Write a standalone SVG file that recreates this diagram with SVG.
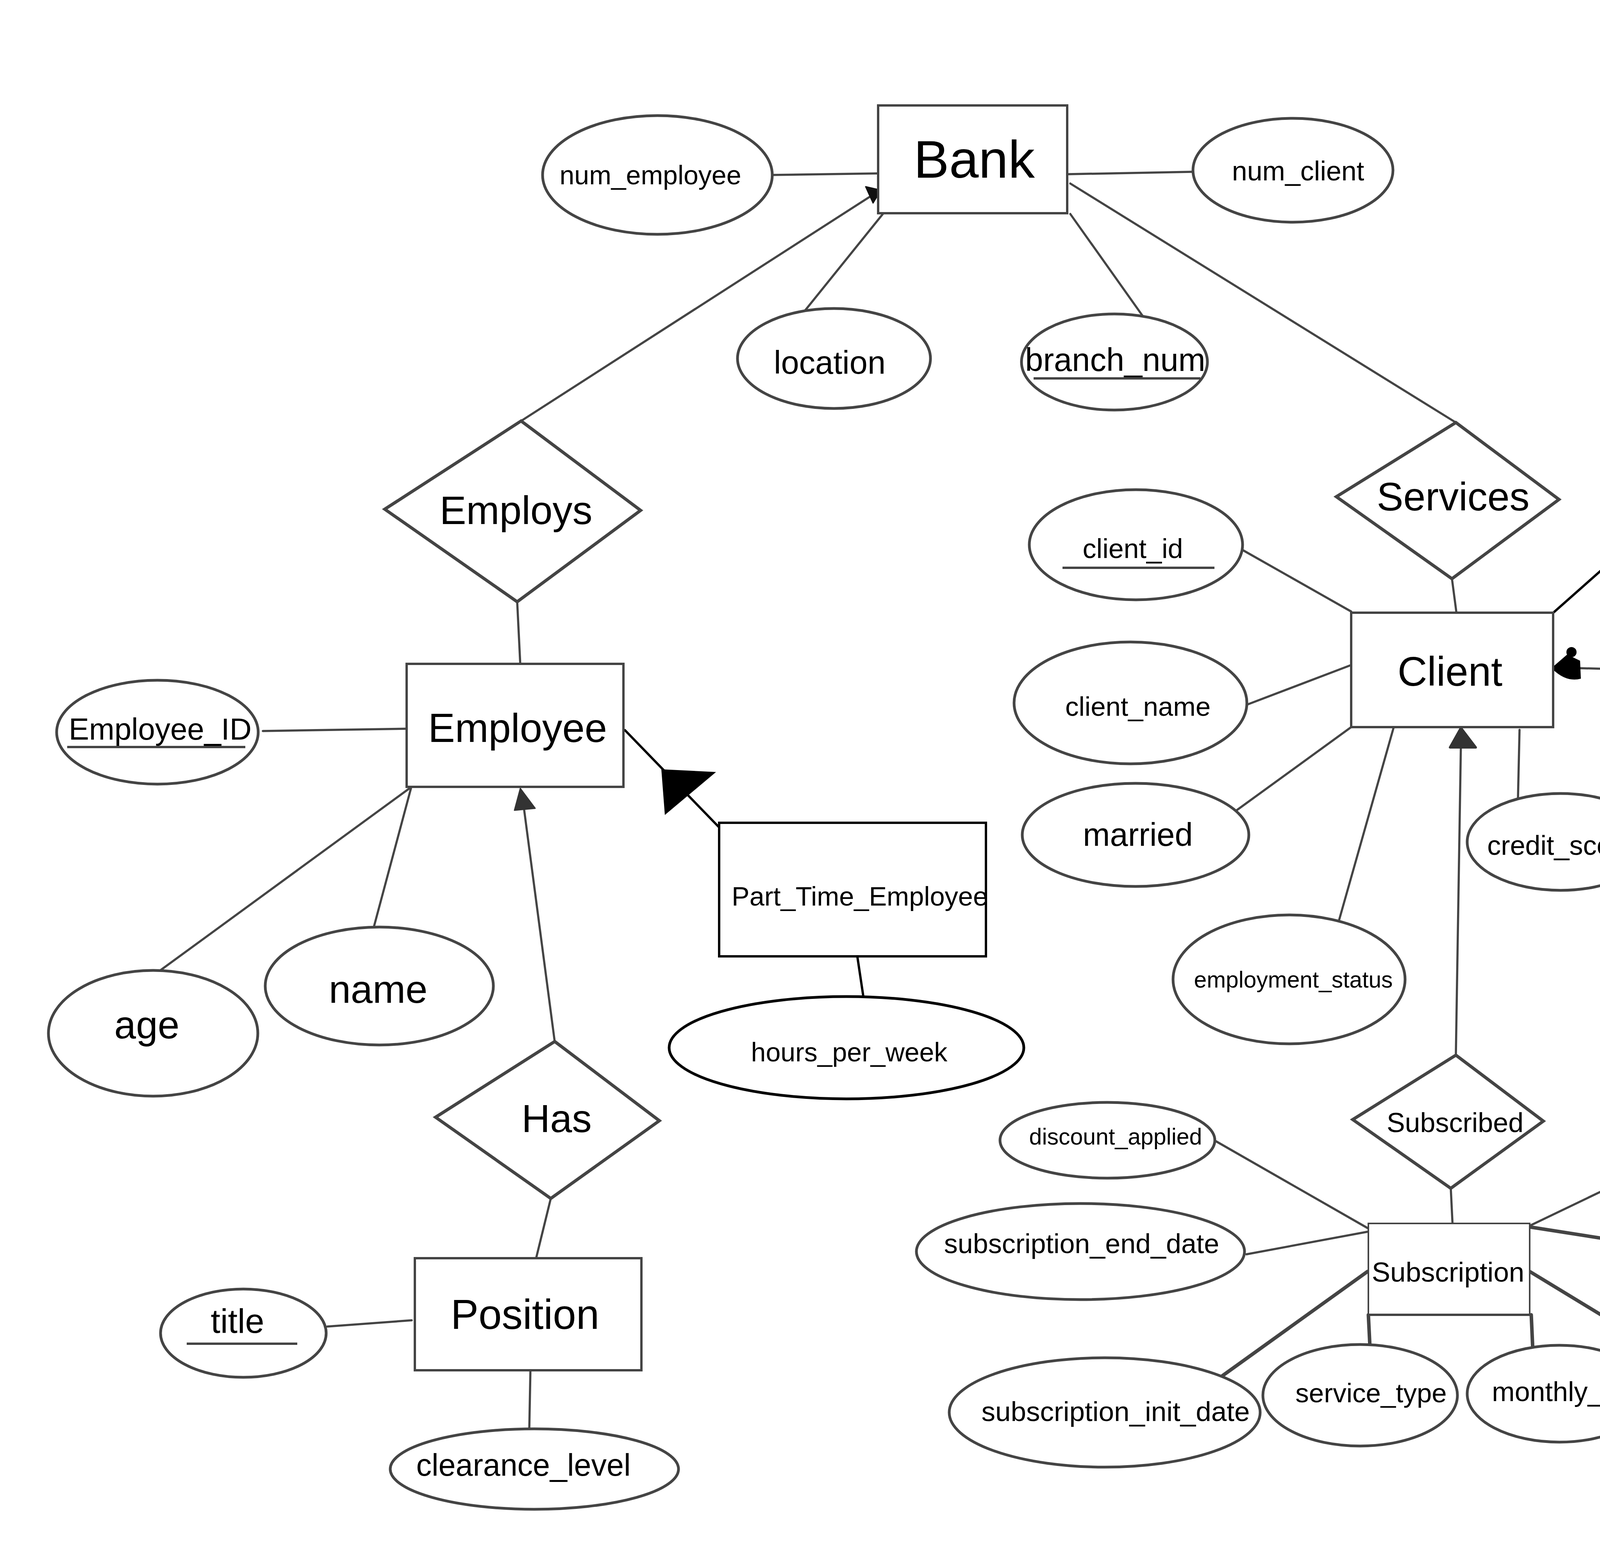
<svg xmlns="http://www.w3.org/2000/svg" width="6000" height="4000" viewBox="0 0 6000 4000">
<style>
  text { font-family: "Liberation Sans", Arial, sans-serif; fill: #000; text-anchor: middle; }
  .ent { fill: #fff; stroke: #444; stroke-width: 6; }
  .entb { fill: #fff; stroke: #000; stroke-width: 6; }
  .rel { fill: #fff; stroke: #444; stroke-width: 8; stroke-linejoin: miter; }
  .att { fill: #fff; stroke: #444; stroke-width: 7; }
  .attb { fill: #fff; stroke: #000; stroke-width: 7; }
  .ul { stroke: #444; stroke-width: 6; }
  .ln { stroke: #444; stroke-width: 5.5; fill: none; stroke-linecap: round; }
  .lnb { stroke: #000; stroke-width: 6; fill: none; stroke-linecap: round; }
  .lnt { stroke: #444; stroke-width: 9; fill: none; stroke-linecap: round; }
  .head { fill: #111; stroke: #111; stroke-width: 3; stroke-linejoin: round; }
</style>
<rect width="6000" height="4000" fill="#fff"/>

<g id="connectors">
  <line class="ln" x1="1980" y1="448" x2="2252" y2="444"/>
  <line class="ln" x1="2736" y1="446" x2="3054" y2="440"/>
  <line class="ln" x1="2260" y1="548" x2="2057" y2="800"/>
  <line class="ln" x1="2740" y1="548" x2="2933" y2="820"/>
  <line class="ln" x1="2740" y1="470" x2="3727" y2="1082"/>
  <line class="ln" x1="1334" y1="1078" x2="2228" y2="503"/>
  <polygon class="head" points="2216,478 2255,487 2235,520"/>
  <line class="ln" x1="1324" y1="1541" x2="1332" y2="1703"/>
  <line class="ln" x1="673" y1="1872" x2="1047" y2="1866"/>
  <line class="ln" x1="1048" y1="2019" x2="402" y2="2491"/>
  <line class="ln" x1="1052" y1="2019" x2="957" y2="2374"/>
  <line class="ln" x1="1420" y1="2667" x2="1340" y2="2060"/>
  <polygon class="head" points="1332,2019 1317,2075 1370,2070" style="fill:#333;stroke:#333"/>
  <line class="ln" x1="1410" y1="3069" x2="1372" y2="3224"/>
  <line class="ln" x1="838" y1="3397" x2="1054" y2="3381"/>
  <line class="ln" x1="1358" y1="3503" x2="1355" y2="3658"/>
  <line class="lnb" x1="1850" y1="2128" x2="1600" y2="1870"/>
  <polygon points="1693,1970 1833,1977 1702,2087" fill="#000"/>
  <line class="lnb" x1="2194" y1="2444" x2="2210" y2="2551"/>
  <line class="ln" x1="3717" y1="1482" x2="3729" y2="1573"/>
  <line class="ln" x1="3182" y1="1409" x2="3459" y2="1566"/>
  <line class="ln" x1="3191" y1="1805" x2="3459" y2="1703"/>
  <line class="ln" x1="3459" y1="1862" x2="3163" y2="2077"/>
  <line class="ln" x1="3568" y1="1862" x2="3425" y2="2367"/>
  <line class="ln" x1="3890" y1="1869" x2="3886" y2="2045"/>
  <line class="ln" x1="3727" y1="2702" x2="3740" y2="1900"/>
  <polygon class="head" points="3740,1864 3712,1914 3778,1914" style="fill:#333;stroke:#333;stroke-width:6"/>
  <line class="lnb" x1="4433" y1="1165" x2="3972" y2="1573"/>
  <polygon points="4177,1242 4350,1341 4150,1424" fill="#000" stroke="#000" stroke-width="12" stroke-linejoin="round"/>
  <line class="lnb" x1="4193" y1="1221" x2="4182" y2="1300" style="stroke-width:10"/>
  <line class="lnb" x1="4580" y1="469" x2="4527" y2="861"/>
  <line class="ln" x1="4223" y1="1716" x2="4043" y2="1711"/>
  <path d="M3975,1708 L4012,1676 L4045,1692 L4047,1738 Q4010,1748 3975,1714 Z" fill="#000"/>
  <circle cx="4023" cy="1670" r="13" fill="#000"/>
  <line class="ln" x1="4793" y1="1722" x2="4967" y2="1728"/>
  <line class="ln" x1="5311" y1="1339" x2="5311" y2="1566"/>
  <line class="ln" x1="4957" y1="1913" x2="4894" y2="2202"/>
  <line class="ln" x1="5650" y1="1913" x2="5692" y2="2217"/>
  <line class="ln" x1="3714" y1="3043" x2="3719" y2="3145"/>
  <line class="ln" x1="3105" y1="2918" x2="3517" y2="3154"/>
  <line class="ln" x1="3191" y1="3212" x2="3513" y2="3152"/>
  <line class="ln" x1="3916" y1="3139" x2="4349" y2="2931"/>
  <line class="lnt" x1="3916" y1="3142" x2="4362" y2="3212"/>
  <line class="lnt" x1="3916" y1="3256" x2="4335" y2="3511"/>
  <line class="lnt" x1="3920" y1="3367" x2="3924" y2="3457"/>
  <line class="lnt" x1="3503" y1="3367" x2="3507" y2="3448"/>
  <line class="lnt" x1="3501" y1="3256" x2="3124" y2="3527"/>
</g>

<g id="Bank"><rect class="ent" x="2248" y="270" width="484" height="276"/><text x="2494" y="455" font-size="136">Bank</text></g>
<g id="num_employee"><ellipse class="att" cx="1683" cy="448" rx="294" ry="152"/><text x="1665" y="472" font-size="68">num_employee</text></g>
<g id="num_client"><ellipse class="att" cx="3310" cy="436" rx="256" ry="133"/><text x="3323" y="462" font-size="70">num_client</text></g>
<g id="location"><ellipse class="att" cx="2135" cy="918" rx="247" ry="128"/><text x="2124" y="957" font-size="83">location</text></g>
<g id="branch_num"><ellipse class="att" cx="2853" cy="927" rx="238" ry="123"/><text x="2855" y="950" font-size="83">branch_num</text><line class="ul" x1="2646" y1="969" x2="3073" y2="969"/></g>
<g id="join_year"><ellipse class="attb" cx="4705" cy="329" rx="232" ry="161"/><text x="4720" y="376" font-size="93">join_year</text></g>
<g id="Vip_Client"><polygon class="entb" points="4247,838 4774,861 4760,1180 4234,1158"/><text x="4516" y="1061" font-size="92">Vip_Client</text></g>
<g id="Employs"><polygon class="rel" points="1334,1078 1640,1307 1324,1541 985,1304"/><text x="1321" y="1342" font-size="102">Employs</text></g>
<g id="Services"><polygon class="rel" points="3727,1082 3991,1279 3717,1482 3421,1272"/><text x="3720" y="1307" font-size="102">Services</text></g>
<g id="account_num"><ellipse class="att" cx="5307" cy="1152" rx="292" ry="179" style="stroke-width:12"/><text x="5299" y="1186" font-size="75">account_num</text><line class="ul" x1="5135" y1="1228" x2="5453" y2="1228"/></g>
<g id="client_id"><ellipse class="att" cx="2908" cy="1395" rx="273" ry="141"/><text x="2900" y="1429" font-size="70">client_id</text><line class="ul" x1="2720" y1="1454" x2="3109" y2="1454"/></g>
<g id="client_name"><ellipse class="att" cx="2894" cy="1800" rx="298" ry="156"/><text x="2913" y="1833" font-size="69">client_name</text></g>
<g id="Client"><rect class="ent" x="3459" y="1569" width="517" height="293"/><text x="3712" y="1756" font-size="105">Client</text></g>
<g id="Owns"><polygon class="rel" points="4525,1518 4793,1722 4515,1922 4225,1716"/><text x="4507" y="1763" font-size="82">Owns</text></g>
<g id="Account"><rect class="ent" x="4955" y="1556" width="695" height="353" style="stroke-width:14"/><text x="5326" y="1773" font-size="108">Account</text></g>
<g id="Employee"><rect class="ent" x="1041" y="1700" width="555" height="315"/><text x="1325" y="1900" font-size="103">Employee</text></g>
<g id="Employee_ID"><ellipse class="att" cx="403" cy="1875" rx="258" ry="133"/><text x="410" y="1894" font-size="78">Employee_ID</text><line class="ul" x1="172" y1="1913" x2="628" y2="1913"/></g>
<g id="married"><ellipse class="att" cx="2907" cy="2138" rx="290" ry="132"/><text x="2913" y="2166" font-size="83">married</text></g>
<g id="credit_score"><ellipse class="att" cx="3995" cy="2156" rx="239" ry="124"/><text x="3998" y="2189" font-size="70">credit_score</text></g>
<g id="Part_Time_Employee"><rect class="entb" x="1841" y="2107" width="683" height="342"/><text x="2201" y="2319" font-size="68.5">Part_Time_Employee</text></g>
<g id="balance"><ellipse class="att" cx="4908" cy="2350" rx="268" ry="152"/><text x="4884" y="2376" font-size="80">balance</text></g>
<g id="account_type"><ellipse class="att" cx="5652" cy="2354" rx="256" ry="150"/><text x="5655" y="2370" font-size="82">account_type</text></g>
<g id="employment_status"><ellipse class="att" cx="3300" cy="2508" rx="297" ry="165"/><text x="3311" y="2529" font-size="58.7">employment_status</text></g>
<g id="name"><ellipse class="att" cx="971" cy="2525" rx="292" ry="151"/><text x="968" y="2568" font-size="101">name</text></g>
<g id="age"><ellipse class="att" cx="392" cy="2646" rx="268" ry="161"/><text x="376" y="2659" font-size="100">age</text></g>
<g id="hours_per_week"><ellipse class="attb" cx="2167" cy="2683" rx="454" ry="131"/><text x="2174" y="2718" font-size="68">hours_per_week</text></g>
<g id="Has"><polygon class="rel" points="1420,2667 1688,2870 1410,3069 1115,2861"/><text x="1425" y="2899" font-size="101">Has</text></g>
<g id="Subscribed"><polygon class="rel" points="3727,2702 3951,2871 3714,3043 3463,2867"/><text x="3725" y="2899" font-size="70">Subscribed</text></g>
<g id="discount_applied"><ellipse class="att" cx="2835" cy="2920" rx="275" ry="97"/><text x="2856" y="2931" font-size="59">discount_applied</text></g>
<g id="payment_method"><ellipse class="att" cx="4610" cy="2922" rx="261" ry="67"/><text x="4607" y="2937" font-size="58.5">payment_method</text></g>
<g id="subscription_end_date"><ellipse class="att" cx="2766" cy="3205" rx="420" ry="123"/><text x="2769" y="3209" font-size="70">subscription_end_date</text></g>
<g id="subscription_id"><ellipse class="att" cx="4600" cy="3205" rx="237" ry="122"/><text x="4587" y="3218" font-size="58.8">subscription_id</text><line class="ul" x1="4397" y1="3241" x2="4798" y2="3241"/></g>
<g id="Subscription"><rect class="ent" x="3503" y="3133" width="413" height="234" style="stroke-width:4"/><line x1="3503" y1="3367" x2="3920" y2="3367" stroke="#444" stroke-width="6"/><text x="3707" y="3282" font-size="71">Subscription</text></g>
<g id="Position"><rect class="ent" x="1062" y="3222" width="580" height="287"/><text x="1344" y="3403" font-size="107">Position</text></g>
<g id="title"><ellipse class="att" cx="623" cy="3414" rx="212" ry="113"/><text x="608" y="3413" font-size="88">title</text><line class="ul" x1="478" y1="3441" x2="761" y2="3441"/></g>
<g id="monthly_fee"><ellipse class="att" cx="3992" cy="3569" rx="236" ry="124"/><text x="4010" y="3588" font-size="70">monthly_fee</text></g>
<g id="service_type"><ellipse class="att" cx="3482" cy="3573" rx="249" ry="130"/><text x="3510" y="3591" font-size="69">service_type</text></g>
<g id="subscription_status"><ellipse class="att" cx="4619" cy="3596" rx="394" ry="126"/><text x="4617" y="3613" font-size="70">subscription_status</text></g>
<g id="subscription_init_date"><ellipse class="att" cx="2828" cy="3617" rx="398" ry="140"/><text x="2856" y="3639" font-size="71">subscription_init_date</text></g>
<g id="clearance_level"><ellipse class="att" cx="1368" cy="3762" rx="369" ry="103"/><text x="1340" y="3779" font-size="79">clearance_level</text></g>
</svg>
